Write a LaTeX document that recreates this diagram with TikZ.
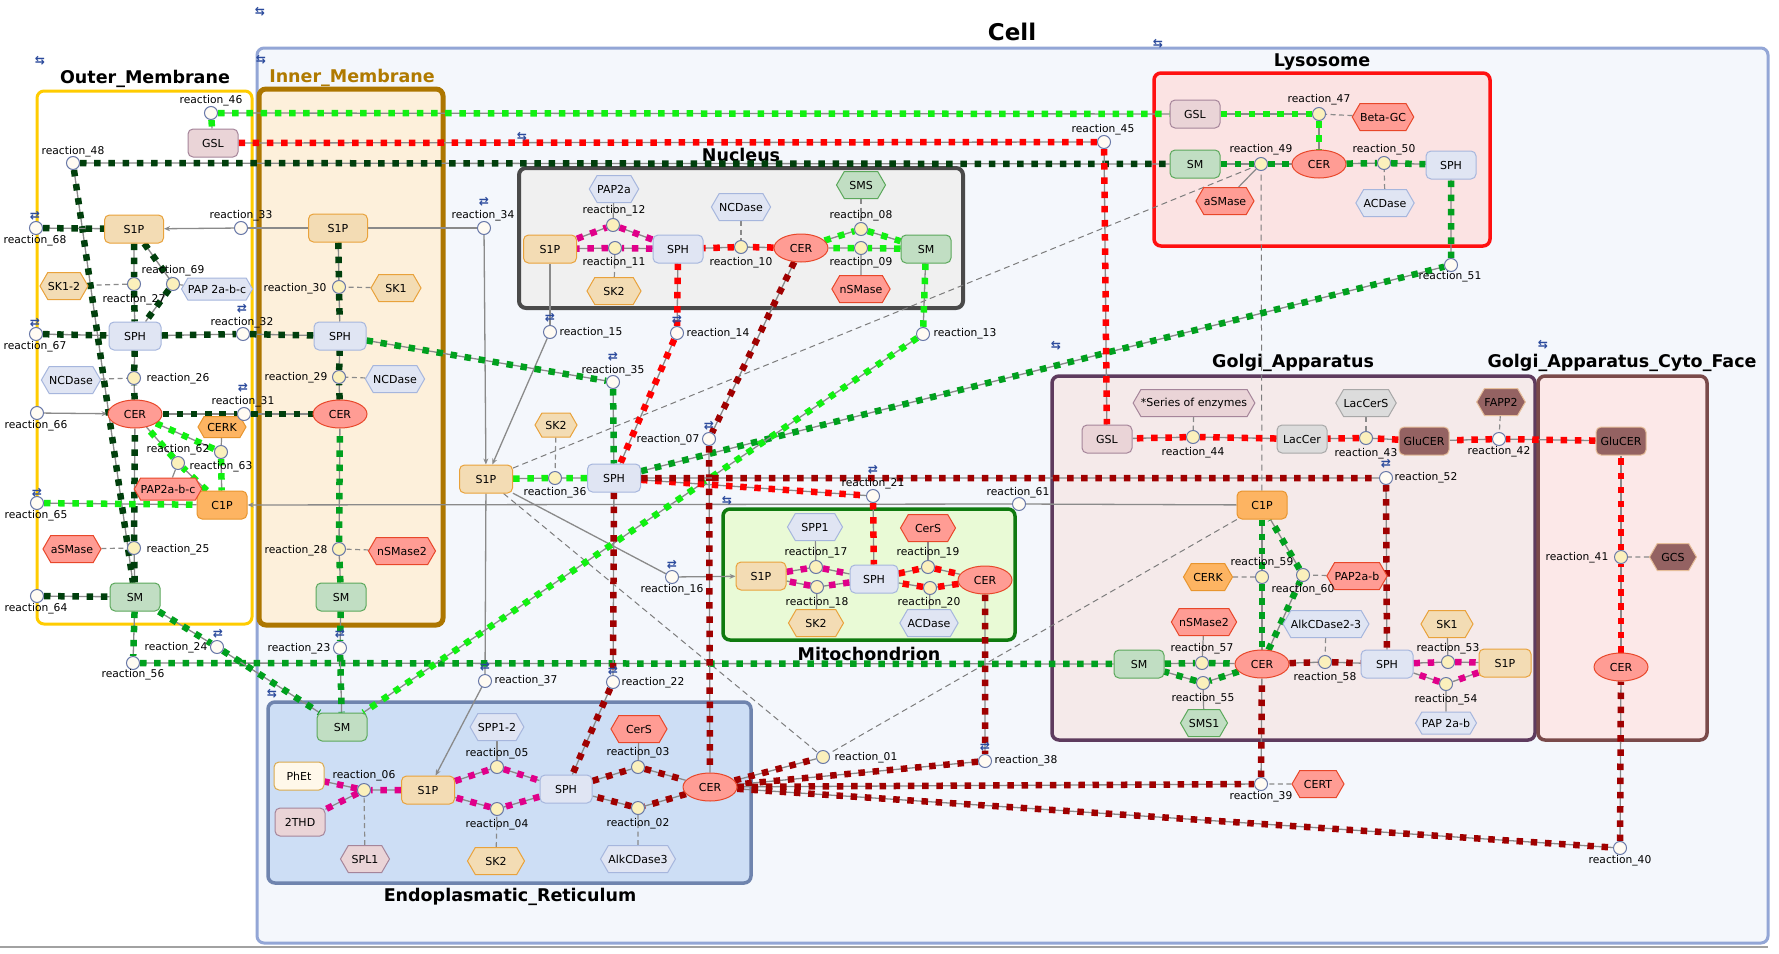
\documentclass[tikz,border=0pt]{standalone}
\usepackage{fontspec}
\setmainfont{DejaVu Sans}
\usetikzlibrary{shapes.geometric,shapes.symbols,arrows.meta}
\pgfdeclarelayer{bg}
\pgfdeclarelayer{mid}
\pgfsetlayers{bg,mid,main}
\definecolor{cellF}{HTML}{F4F7FC}
\definecolor{cellD}{HTML}{93A6D6}
\definecolor{outD}{HTML}{FFCC00}
\definecolor{innF}{HTML}{FDF0DB}
\definecolor{innD}{HTML}{AD7600}
\definecolor{nucF}{HTML}{F0F0F0}
\definecolor{nucD}{HTML}{4A4A4A}
\definecolor{lysF}{HTML}{FBE3E3}
\definecolor{lysD}{HTML}{FF1010}
\definecolor{golF}{HTML}{F5EAEA}
\definecolor{golD}{HTML}{5E3B5E}
\definecolor{cytF}{HTML}{FCE8E8}
\definecolor{cytD}{HTML}{7A4A4A}
\definecolor{mitF}{HTML}{E9FAD6}
\definecolor{mitD}{HTML}{0F7A0F}
\definecolor{erF}{HTML}{CDDEF5}
\definecolor{erD}{HTML}{6F84AE}
\definecolor{s1pF}{HTML}{F3DCB4}
\definecolor{s1pD}{HTML}{E9A23B}
\definecolor{sphF}{HTML}{E0E5F3}
\definecolor{sphD}{HTML}{A6B6DD}
\definecolor{cerF}{HTML}{FF9C94}
\definecolor{cerD}{HTML}{E8472A}
\definecolor{smF}{HTML}{C1DEC3}
\definecolor{smD}{HTML}{5BA85B}
\definecolor{gslF}{HTML}{EAD4D7}
\definecolor{gslD}{HTML}{A5859A}
\definecolor{c1pF}{HTML}{FDB462}
\definecolor{c1pD}{HTML}{E8952E}
\definecolor{lacF}{HTML}{DCDCDC}
\definecolor{lacD}{HTML}{A8A8A8}
\definecolor{gluF}{HTML}{946262}
\definecolor{gluD}{HTML}{E6BE9A}
\definecolor{phF}{HTML}{FFF8EA}
\definecolor{phD}{HTML}{D9AA4F}
\definecolor{rY}{HTML}{FBF0BC}
\definecolor{rW}{HTML}{FFFBF3}
\definecolor{rxD}{HTML}{6878A8}
\definecolor{lnG}{HTML}{8A8A8A}
\definecolor{dkG}{HTML}{003F0C}
\definecolor{mdG}{HTML}{00A01E}
\definecolor{brG}{HTML}{11F011}
\definecolor{rdR}{HTML}{FF0000}
\definecolor{dkR}{HTML}{A00000}
\definecolor{mgM}{HTML}{E0008A}
\definecolor{glyC}{HTML}{2B4A9C}
\definecolor{innT}{HTML}{B07A00}
\tikzset{
  every node/.style={font=\fontsize{11}{13}\selectfont},
  cbox/.style n args={3}{draw=#2, fill=#1, line width=#3, rounded corners=7pt},
  ttl/.style={font=\fontsize{17.5}{20}\bfseries\selectfont, inner sep=0pt},
  spc/.style 2 args={rectangle, rounded corners=5pt, draw=#2, fill=#1, line width=1pt, minimum width=50pt, minimum height=28pt, inner sep=1pt},
  kS1P/.style={spc={s1pF}{s1pD}},
  kSPH/.style={spc={sphF}{sphD}},
  kSM/.style={spc={smF}{smD}},
  kGSL/.style={spc={gslF}{gslD}},
  kC1P/.style={spc={c1pF}{c1pD}},
  kLAC/.style={spc={lacF}{lacD}},
  kGLU/.style={spc={gluF}{gluD}},
  kPH/.style={spc={phF}{phD}},
  kCER/.style={ellipse, draw=cerD, fill=cerF, line width=1pt, minimum width=54pt, minimum height=28pt, inner sep=0pt},
  hx/.style 2 args={signal, signal to=east and west, signal pointer angle=120, draw=#2, fill=#1, line width=1pt, minimum height=27pt, minimum width=50pt, inner xsep=0pt, inner ysep=1pt},
  eSK/.style={hx={s1pF}{s1pD}},
  eBL/.style={hx={sphF}{sphD}},
  eRD/.style={hx={cerF}{cerD}},
  eGR/.style={hx={smF}{smD}},
  eOR/.style={hx={c1pF}{c1pD}},
  eBR/.style={hx={gluF}{gluD}},
  eGY/.style={hx={lacF}{lacD}},
  ePK/.style={hx={gslF}{gslD}},
  rxn/.style={circle, draw=rxD, fill=#1, line width=1pt, minimum size=13pt, inner sep=0pt},
  rlab/.style={font=\fontsize{10.7}{12}\selectfont, inner sep=0pt},
  rgly/.style={font=\fontsize{12}{13}\bfseries\selectfont, text=glyC, inner sep=0pt},
  lnbase/.style={draw=lnG, line width=1.3pt},
  flx/.style={draw=#1, line width=6.5pt, dash pattern=on 6.5pt off 7.7pt},
  pln/.style={draw=lnG, line width=1.3pt, -{Stealth[length=6pt,width=5pt]}},
  modl/.style={draw=lnG, line width=1.2pt, dash pattern=on 5pt off 3.5pt},
  catl/.style={draw=lnG, line width=1.2pt},
  longd/.style={draw=lnG!90!black, line width=1pt, dash pattern=on 6pt off 4pt},
}
\newcommand\fl[2]{\draw[lnbase] #2; \draw[flx=#1] #2;}
\begin{document}
\begin{tikzpicture}[x=1pt,y=-1pt]
\useasboundingbox (0,0) rectangle (1779,953);
\begin{pgfonlayer}{bg}
\fill[white] (0,0) rectangle (1779,953);
\draw[cbox={cellF}{cellD}{3pt}] (257,48) rectangle (1768,943);
\draw[draw=lnG!80, line width=1.5pt] (0,947) -- (1768,947);
\draw[cbox={white}{outD}{3pt}] (37,91) rectangle (252,624);
\draw[cbox={innF}{innD}{5pt}] (259,89) rectangle (443,625);
\draw[cbox={nucF}{nucD}{4pt}] (519,168) rectangle (963,308);
\draw[cbox={lysF}{lysD}{3.5pt}] (1154,73) rectangle (1490,246);
\draw[cbox={golF}{golD}{3.5pt}] (1052,376) rectangle (1535,740);
\draw[cbox={cytF}{cytD}{3.5pt}] (1538,376) rectangle (1707,740);
\draw[cbox={mitF}{mitD}{3.5pt}] (723,509) rectangle (1015,640);
\draw[cbox={erF}{erD}{3.5pt}] (268,702) rectangle (751,883);
\node[ttl, font=\fontsize{23}{26}\bfseries\selectfont] (tCell) at (1012,32) {Cell};
\node[ttl] (tOut) at (145,79) {Outer\_Membrane};
\node[ttl, text=innT] (tInn) at (352,78) {Inner\_Membrane};
\node[ttl] (tNuc) at (741,155) {Nucleus};
\node[ttl] (tLys) at (1322,62) {Lysosome};
\node[ttl] (tGol) at (1293,363) {Golgi\_Apparatus};
\node[ttl] (tCyt) at (1622,363) {Golgi\_Apparatus\_Cyto\_Face};
\node[ttl] (tMit) at (869,654) {Mitochondrion};
\node[ttl] (tER) at (510,897) {Endoplasmatic\_Reticulum};
\end{pgfonlayer}
% species
\node[kGSL] (gslO) at (213,143) {GSL};
\node[kS1P, minimum width=59pt] (s1pO) at (134,229) {S1P};
\node[kSPH, minimum width=52pt] (sphO) at (135,336) {SPH};
\node[kCER] (cerO) at (135,414) {CER};
\node[kC1P] (c1pO) at (222,505) {C1P};
\node[kSM] (smO) at (135,597) {SM};
\node[kS1P, minimum width=59pt] (s1pI) at (338,228) {S1P};
\node[kSPH, minimum width=52pt] (sphI) at (340,336) {SPH};
\node[kCER] (cerI) at (340,414) {CER};
\node[kSM] (smI) at (341,597) {SM};
\node[kS1P, minimum width=53pt] (s1pN) at (550,249) {S1P};
\node[kSPH] (sphN) at (678,249) {SPH};
\node[kCER] (cerN) at (801,248) {CER};
\node[kSM] (smN) at (926,249) {SM};
\node[kS1P, minimum width=53pt] (s1pC) at (486,479) {S1P};
\node[kSPH, minimum width=53pt] (sphC) at (614,478) {SPH};
\node[kS1P] (s1pM) at (761,576) {S1P};
\node[kSPH, minimum width=48pt] (sphM) at (874,579) {SPH};
\node[kCER] (cerM) at (985,580) {CER};
\node[kSM] (smE) at (342,727) {SM};
\node[kPH] (phet) at (299,776) {PhEt};
\node[kGSL] (thd) at (300,822) {2THD};
\node[kS1P, minimum width=53pt] (s1pE) at (428,790) {S1P};
\node[kSPH, minimum width=52pt] (sphE) at (566,789) {SPH};
\node[kCER] (cerE) at (710,787) {CER};
\node[kGSL] (gslL) at (1195,114) {GSL};
\node[kSM] (smL) at (1195,164) {SM};
\node[kCER] (cerL) at (1319,164) {CER};
\node[kSPH] (sphL) at (1451,165) {SPH};
\node[kGSL] (gslG) at (1107,439) {GSL};
\node[kLAC] (lacG) at (1302,439) {LacCer};
\node[kGLU] (gluG) at (1424,441) {GluCER};
\node[kC1P] (c1pG) at (1262,505) {C1P};
\node[kSM] (smG) at (1139,664) {SM};
\node[kCER] (cerG) at (1262,664) {CER};
\node[kSPH, minimum width=52pt] (sphG) at (1387,664) {SPH};
\node[kS1P, minimum width=52pt] (s1pG) at (1505,663) {S1P};
\node[kGLU] (gluC) at (1621,441) {GluCER};
\node[kCER] (cerC) at (1621,667) {CER};
% enzymes
\node[eSK, minimum width=48pt] (sk12) at (64,286) {SK1-2};
\node[eBL, minimum width=64pt, minimum height=22pt] (pap2abcB) at (217,289) {PAP 2a-b-c};
\node[eSK] (sk1I) at (396,288) {SK1};
\node[eBL, minimum width=55pt] (ncdO) at (71,380) {NCDase};
\node[eBL, minimum width=55pt] (ncdI) at (395,379) {NCDase};
\node[eOR, minimum width=48pt, minimum height=21pt] (cerkO) at (222,427) {CERK};
\node[eRD, minimum width=63pt, minimum height=22pt] (pap2abcR) at (168,489) {PAP2a-b-c};
\node[eRD, minimum width=55pt] (asmO) at (72,549) {aSMase};
\node[eRD, minimum width=67pt] (nsm2I) at (402,551) {nSMase2};
\node[eBL, minimum width=48pt] (pap2a) at (614,189) {PAP2a};
\node[eSK, minimum width=54pt] (sk2N) at (614,291) {SK2};
\node[eBL, minimum width=56pt] (ncdN) at (741,207) {NCDase};
\node[eGR, minimum width=49pt] (sms) at (861,185) {SMS};
\node[eRD, minimum width=55pt] (nsmN) at (861,289) {nSMase};
\node[eSK, minimum width=42pt, minimum height=24pt] (sk2C) at (556,425) {SK2};
\node[eBL, minimum width=55pt] (spp1) at (815,527) {SPP1};
\node[eSK, minimum width=55pt] (sk2M) at (816,623) {SK2};
\node[eRD, minimum width=55pt] (cersM) at (928,528) {CerS};
\node[eBL, minimum width=55pt] (acdM) at (929,623) {ACDase};
\node[eBL, minimum width=51pt] (spp12) at (497,727) {SPP1-2};
\node[eSK, minimum width=57pt] (sk2E) at (496,861) {SK2};
\node[eRD, minimum width=56pt] (cersE) at (639,729) {CerS};
\node[eBL, minimum width=70pt] (alk3) at (638,859) {AlkCDase3};
\node[ePK, minimum width=49pt] (spl1) at (365,859) {SPL1};
\node[eRD, minimum width=56pt] (betagc) at (1383,117) {Beta-GC};
\node[eRD, minimum width=51pt] (asmL) at (1225,201) {aSMase};
\node[eBL, minimum width=56pt] (acdL) at (1385,203) {ACDase};
\node[ePK, minimum width=120pt] (series) at (1194,403) {*Series of enzymes};
\node[eGY, minimum width=57pt] (laccers) at (1366,403) {LacCerS};
\node[eBR, minimum width=46pt] (fapp2) at (1501,402) {FAPP2};
\node[eBR, minimum width=47pt] (gcs) at (1673,557) {GCS};
\node[eOR, minimum width=49pt] (cerkG) at (1208,577) {CERK};
\node[eRD, minimum width=53pt] (pap2abR) at (1357,576) {PAP2a-b};
\node[eRD, minimum width=62pt] (nsm2G) at (1204,622) {nSMase2};
\node[eBL, minimum width=78pt] (alk23) at (1326,624) {AlkCDase2-3};
\node[eSK, minimum width=52pt] (sk1G) at (1447,624) {SK1};
\node[eGR, minimum width=47pt] (sms1) at (1204,723) {SMS1};
\node[eBL, minimum width=60pt, minimum height=22pt] (pap2ab) at (1446,723) {PAP 2a-b};
\node[eRD, minimum width=52pt] (cert) at (1318,784) {CERT};
% reactions
\node[rxn=rY] (r01) at (823,757) {};
\node[rxn=rY] (r02) at (638,808) {};
\node[rxn=rY] (r03) at (638,767) {};
\node[rxn=rY] (r04) at (497,809) {};
\node[rxn=rY] (r05) at (497,767) {};
\node[rxn=rY] (r06) at (364,790) {};
\node[rxn=rW] (r07) at (709,439) {};
\node[rxn=rY] (r08) at (861,229) {};
\node[rxn=rY] (r09) at (861,248) {};
\node[rxn=rY] (r10) at (741,247) {};
\node[rxn=rY] (r11) at (615,248) {};
\node[rxn=rY] (r12) at (613,225) {};
\node[rxn=rW] (r13) at (923,334) {};
\node[rxn=rW] (r14) at (677,333) {};
\node[rxn=rW] (r15) at (550,332) {};
\node[rxn=rW] (r16) at (672,577) {};
\node[rxn=rY] (r17) at (816,567) {};
\node[rxn=rY] (r18) at (817,587) {};
\node[rxn=rY] (r19) at (928,567) {};
\node[rxn=rY] (r20) at (930,588) {};
\node[rxn=rW] (r21) at (873,496) {};
\node[rxn=rW] (r22) at (613,682) {};
\node[rxn=rW] (r23) at (340,648) {};
\node[rxn=rW] (r24) at (217,647) {};
\node[rxn=rY] (r25) at (134,548) {};
\node[rxn=rY] (r26) at (134,378) {};
\node[rxn=rY] (r27) at (134,284) {};
\node[rxn=rY] (r28) at (339,549) {};
\node[rxn=rY] (r29) at (339,377) {};
\node[rxn=rY] (r30) at (339,287) {};
\node[rxn=rW] (r31) at (244,414) {};
\node[rxn=rW] (r32) at (243,334) {};
\node[rxn=rW] (r33) at (241,228) {};
\node[rxn=rW] (r34) at (484,228) {};
\node[rxn=rW] (r35) at (613,382) {};
\node[rxn=rY] (r36) at (555,478) {};
\node[rxn=rW] (r37) at (485,681) {};
\node[rxn=rW] (r38) at (985,761) {};
\node[rxn=rW] (r39) at (1261,784) {};
\node[rxn=rW] (r40) at (1620,848) {};
\node[rxn=rY] (r41) at (1621,557) {};
\node[rxn=rW] (r42) at (1499,439) {};
\node[rxn=rY] (r43) at (1366,438) {};
\node[rxn=rY] (r44) at (1193,437) {};
\node[rxn=rW] (r45) at (1104,142) {};
\node[rxn=rW] (r46) at (211,113) {};
\node[rxn=rY] (r47) at (1319,114) {};
\node[rxn=rW] (r48) at (73,163) {};
\node[rxn=rY] (r49) at (1261,164) {};
\node[rxn=rY] (r50) at (1384,163) {};
\node[rxn=rW] (r51) at (1451,265) {};
\node[rxn=rW] (r52) at (1386,478) {};
\node[rxn=rY] (r53) at (1448,662) {};
\node[rxn=rY] (r54) at (1446,684) {};
\node[rxn=rY] (r55) at (1203,683) {};
\node[rxn=rW] (r56) at (133,663) {};
\node[rxn=rY] (r57) at (1202,663) {};
\node[rxn=rY] (r58) at (1325,662) {};
\node[rxn=rY] (r59) at (1262,577) {};
\node[rxn=rY] (r60) at (1303,575) {};
\node[rxn=rW] (r61) at (1019,504) {};
\node[rxn=rY] (r62) at (178,463) {};
\node[rxn=rY] (r63) at (221,452) {};
\node[rxn=rW] (r64) at (37,596) {};
\node[rxn=rW] (r65) at (37,503) {};
\node[rxn=rW] (r66) at (37,413) {};
\node[rxn=rW] (r67) at (36,334) {};
\node[rxn=rW] (r68) at (36,228) {};
\node[rxn=rY] (r69) at (173,284) {};
% reaction labels
\node[rlab] (l01) at (866,758) {reaction\_01};
\node[rlab] (l02) at (638,824) {reaction\_02};
\node[rlab] (l03) at (638,753) {reaction\_03};
\node[rlab] (l04) at (497,825) {reaction\_04};
\node[rlab] (l05) at (497,754) {reaction\_05};
\node[rlab] (l06) at (364,776) {reaction\_06};
\node[rlab] (l07) at (668,440) {reaction\_07};
\node[rlab] (l08) at (861,216) {reaction\_08};
\node[rlab] (l09) at (861,263) {reaction\_09};
\node[rlab] (l10) at (741,263) {reaction\_10};
\node[rlab] (l11) at (614,263) {reaction\_11};
\node[rlab] (l12) at (614,211) {reaction\_12};
\node[rlab] (l13) at (965,334) {reaction\_13};
\node[rlab] (l14) at (718,334) {reaction\_14};
\node[rlab] (l15) at (591,333) {reaction\_15};
\node[rlab] (l16) at (672,590) {reaction\_16};
\node[rlab] (l17) at (816,553) {reaction\_17};
\node[rlab] (l18) at (817,603) {reaction\_18};
\node[rlab] (l19) at (928,553) {reaction\_19};
\node[rlab] (l20) at (929,603) {reaction\_20};
\node[rlab] (l21) at (873,484) {reaction\_21};
\node[rlab] (l22) at (653,683) {reaction\_22};
\node[rlab] (l23) at (299,649) {reaction\_23};
\node[rlab] (l24) at (176,648) {reaction\_24};
\node[rlab] (l25) at (178,550) {reaction\_25};
\node[rlab] (l26) at (178,379) {reaction\_26};
\node[rlab] (l27) at (134,300) {reaction\_27};
\node[rlab] (l28) at (296,551) {reaction\_28};
\node[rlab] (l29) at (296,378) {reaction\_29};
\node[rlab] (l30) at (295,289) {reaction\_30};
\node[rlab] (l31) at (243,402) {reaction\_31};
\node[rlab] (l32) at (242,323) {reaction\_32};
\node[rlab] (l33) at (241,216) {reaction\_33};
\node[rlab] (l34) at (483,216) {reaction\_34};
\node[rlab] (l35) at (613,371) {reaction\_35};
\node[rlab] (l36) at (555,493) {reaction\_36};
\node[rlab] (l37) at (526,681) {reaction\_37};
\node[rlab] (l38) at (1026,761) {reaction\_38};
\node[rlab] (l39) at (1261,797) {reaction\_39};
\node[rlab] (l40) at (1620,861) {reaction\_40};
\node[rlab] (l41) at (1577,558) {reaction\_41};
\node[rlab] (l42) at (1499,452) {reaction\_42};
\node[rlab] (l43) at (1366,454) {reaction\_43};
\node[rlab] (l44) at (1193,453) {reaction\_44};
\node[rlab] (l45) at (1103,130) {reaction\_45};
\node[rlab] (l46) at (211,101) {reaction\_46};
\node[rlab] (l47) at (1319,100) {reaction\_47};
\node[rlab] (l48) at (73,152) {reaction\_48};
\node[rlab] (l49) at (1261,150) {reaction\_49};
\node[rlab] (l50) at (1384,150) {reaction\_50};
\node[rlab] (l51) at (1450,277) {reaction\_51};
\node[rlab] (l52) at (1426,478) {reaction\_52};
\node[rlab] (l53) at (1448,649) {reaction\_53};
\node[rlab] (l54) at (1446,700) {reaction\_54};
\node[rlab] (l55) at (1203,699) {reaction\_55};
\node[rlab] (l56) at (133,675) {reaction\_56};
\node[rlab] (l57) at (1202,649) {reaction\_57};
\node[rlab] (l58) at (1325,678) {reaction\_58};
\node[rlab] (l59) at (1262,563) {reaction\_59};
\node[rlab] (l60) at (1303,590) {reaction\_60};
\node[rlab] (l61) at (1018,493) {reaction\_61};
\node[rlab] (l62) at (178,450) {reaction\_62};
\node[rlab] (l63) at (221,467) {reaction\_63};
\node[rlab] (l64) at (36,609) {reaction\_64};
\node[rlab] (l65) at (36,516) {reaction\_65};
\node[rlab] (l66) at (36,426) {reaction\_66};
\node[rlab] (l67) at (35,347) {reaction\_67};
\node[rlab] (l68) at (35,241) {reaction\_68};
\node[rlab] (l69) at (173,271) {reaction\_69};
% reversible glyphs
\foreach \i/\x/\y in {a/35/216, b/35/323, c/37/493, d/242/309, e/243/388, f/484/202, g/550/318, h/677/320, i/613/357, j/709/426, k/873/470, l/672/565, m/218/634, n/340/634, o/485/667, p/613/671, q/985/747, r/1386/464}
  \node[rgly] (rg\i) at (\x,\y) {⇄};
\foreach \i/\x/\y in {a/260/12, b/40/61, c/261/60, d/522/137, e/1158/44, f/1056/346, g/1543/345, h/727/501, i/272/694}
  \node[rgly] (cg\i) at (\x,\y) {⇆};
\begin{pgfonlayer}{mid}
% plain transport lines
\draw[lnbase] (s1pI) -- (r33); \draw[pln] (r33) -- (s1pO);
\draw[lnbase] (s1pI) -- (r34); \draw[pln] (r34) -- (s1pC);
\draw[lnbase] (s1pN) -- (r15); \draw[pln] (r15) -- (s1pC);
\draw[lnbase] (s1pC) -- (r37); \draw[pln] (r37) -- (s1pE);
\draw[lnbase] (s1pC) -- (r16); \draw[pln] (r16) -- (s1pM);
\draw[lnbase] (c1pG) -- (r61); \draw[pln] (r61) -- (c1pO);
\draw[pln] (r66) -- (cerO);
% modifiers
\draw[modl] (sk12) -- (r27);
\draw[modl] (pap2abcB) -- (r69);
\draw[modl] (ncdO) -- (r26);
\draw[modl] (asmO) -- (r25);
\draw[modl] (sk1I) -- (r30);
\draw[modl] (ncdI) -- (r29);
\draw[modl] (nsm2I) -- (r28);
\draw[catl] (cerkO) -- (r63);
\draw[catl] (pap2abcR) -- (r62);
\draw[catl] (pap2a) -- (r12);
\draw[modl] (sk2N) -- (r11);
\draw[modl] (ncdN) -- (r10);
\draw[modl] (sms) -- (r08);
\draw[catl] (nsmN) -- (r09);
\draw[modl] (sk2C) -- (r36);
\draw[catl] (spp1) -- (r17);
\draw[catl] (sk2M) -- (r18);
\draw[catl] (cersM) -- (r19);
\draw[catl] (acdM) -- (r20);
\draw[catl] (spp12) -- (r05);
\draw[modl] (sk2E) -- (r04);
\draw[catl] (cersE) -- (r03);
\draw[modl] (alk3) -- (r02);
\draw[modl] (spl1) -- (r06);
\draw[modl] (betagc) -- (r47);
\draw[catl] (asmL) -- (r49);
\draw[modl] (acdL) -- (r50);
\draw[modl] (series) -- (r44);
\draw[modl] (laccers) -- (r43);
\draw[modl] (fapp2) -- (r42);
\draw[modl] (gcs) -- (r41);
\draw[modl] (cerkG) -- (r59);
\draw[modl] (pap2abR) -- (r60);
\draw[catl] (nsm2G) -- (r57);
\draw[catl] (sms1) -- (r55);
\draw[modl] (alk23) -- (r58);
\draw[catl] (sk1G) -- (r53);
\draw[catl] (pap2ab) -- (r54);
\draw[modl] (cert) -- (r39);
\draw[longd] (s1pC) -- (r49);
\draw[longd] (s1pC) -- (r01);
\draw[longd] (c1pG) -- (r01);
\draw[longd] (c1pG) -- (r49);
% dark green fluxes
\fl{dkG}{(r48) -- (smL)}
\fl{dkG}{(r48) -- (smO)}
\fl{dkG}{(r68) -- (s1pO)}
\fl{dkG}{(s1pO) -- (r27) -- (sphO)}
\fl{dkG}{(s1pO) -- (r69) -- (sphO)}
\fl{dkG}{(r67) -- (sphO)}
\fl{dkG}{(sphO) -- (r32) -- (sphI)}
\fl{dkG}{(cerO) -- (r26) -- (sphO)}
\fl{dkG}{(cerO) -- (r31) -- (cerI)}
\fl{dkG}{(smO) -- (r25) -- (cerO)}
\fl{dkG}{(r64) -- (smO)}
\fl{dkG}{(s1pI) -- (r30) -- (sphI)}
\fl{dkG}{(cerI) -- (r29) -- (sphI)}
% medium green fluxes
\fl{mdG}{(smI) -- (r28) -- (cerI)}
\fl{mdG}{(sphI) -- (r35) -- (sphC)}
\fl{mdG}{(sphC) -- (r51) -- (sphL)}
\fl{mdG}{(smO) -- (r56) -- (smG)}
\fl{mdG}{(smO) -- (r24) -- (smE)}
\fl{mdG}{(smI) -- (r23) -- (smE)}
\fl{mdG}{(smL) -- (r49) -- (cerL)}
\fl{mdG}{(cerL) -- (r50) -- (sphL)}
\fl{mdG}{(c1pG) -- (r59) -- (cerG)}
\fl{mdG}{(cerG) -- (r60) -- (c1pG)}
\fl{mdG}{(smG) -- (r57) -- (cerG)}
\fl{mdG}{(cerG) -- (r55) -- (smG)}
% bright green fluxes
\fl{brG}{(r46) -- (gslL)}
\fl{brG}{(r46) -- (gslO)}
\fl{brG}{(gslL) -- (r47) -- (cerL)}
\fl{brG}{(cerO) -- (r63) -- (c1pO)}
\fl{brG}{(c1pO) -- (r62) -- (cerO)}
\fl{brG}{(r65) -- (c1pO)}
\fl{brG}{(sphC) -- (r36) -- (s1pC)}
\fl{brG}{(cerN) -- (r08) -- (smN)}
\fl{brG}{(smN) -- (r09) -- (cerN)}
\fl{brG}{(smN) -- (r13) -- (smE)}
% red fluxes
\fl{rdR}{(gslO) -- (r45) -- (gslG)}
\fl{rdR}{(lacG) -- (r44) -- (gslG)}
\fl{rdR}{(gluG) -- (r43) -- (lacG)}
\fl{rdR}{(gluC) -- (r42) -- (gluG)}
\fl{rdR}{(cerC) -- (r41) -- (gluC)}
\fl{rdR}{(cerN) -- (r10) -- (sphN)}
\fl{rdR}{(sphN) -- (r14) -- (sphC)}
\fl{rdR}{(sphC) -- (r21) -- (sphM)}
\fl{rdR}{(sphM) -- (r19) -- (cerM)}
\fl{rdR}{(cerM) -- (r20) -- (sphM)}
% dark red fluxes
\fl{dkR}{(cerN) -- (r07) -- (cerE)}
\fl{dkR}{(sphC) -- (r52) -- (sphG)}
\fl{dkR}{(sphC) -- (r22) -- (sphE)}
\fl{dkR}{(cerM) -- (r38) -- (cerE)}
\fl{dkR}{(cerE) -- (r39) -- (cerG)}
\fl{dkR}{(cerE) -- (r40) -- (cerC)}
\fl{dkR}{(cerE) -- (r01)}
\fl{dkR}{(sphE) -- (r03) -- (cerE)}
\fl{dkR}{(cerE) -- (r02) -- (sphE)}
\fl{dkR}{(cerG) -- (r58) -- (sphG)}
% magenta fluxes
\fl{mgM}{(s1pN) -- (r12) -- (sphN)}
\fl{mgM}{(sphN) -- (r11) -- (s1pN)}
\fl{mgM}{(s1pM) -- (r17) -- (sphM)}
\fl{mgM}{(sphM) -- (r18) -- (s1pM)}
\fl{mgM}{(s1pE) -- (r05) -- (sphE)}
\fl{mgM}{(sphE) -- (r04) -- (s1pE)}
\fl{mgM}{(s1pE) -- (r06) -- (phet)}
\fl{mgM}{(r06) -- (thd)}
\fl{mgM}{(sphG) -- (r53) -- (s1pG)}
\fl{mgM}{(s1pG) -- (r54) -- (sphG)}
\end{pgfonlayer}
\end{tikzpicture}
\end{document}
